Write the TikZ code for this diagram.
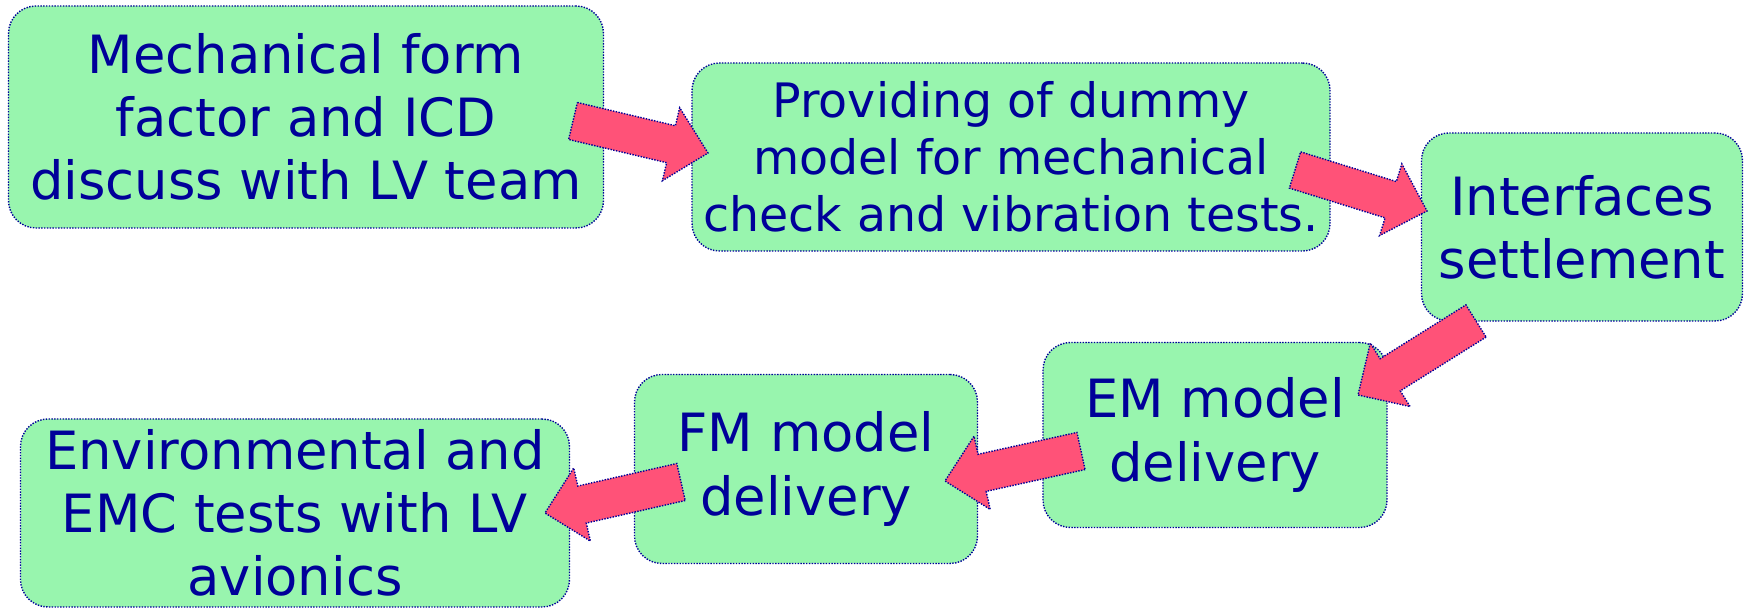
\documentclass[tikz,border=0pt]{standalone}
\usepackage{fontspec}
\setmainfont{DejaVu Sans}
\usepackage{tikz}
\usetikzlibrary{calc}
\usepackage{xcolor}
\definecolor{boxgreen}{RGB}{152,245,174}
\definecolor{inkblue}{RGB}{0,0,153}
\definecolor{arrowpink}{RGB}{255,82,120}
% block arrow from tail #1 to tip #2
\newcommand{\flowarrow}[2]{%
\draw[flow] ($(#1)!0.38cm!90:(#2)$) -- ($(#2)!0.76cm!(#1)!0.38cm!90:(#2)$)
  -- ($(#2)!0.76cm!(#1)!0.75cm!90:(#2)$) -- (#2)
  -- ($(#2)!0.76cm!(#1)!0.75cm!-90:(#2)$) -- ($(#2)!0.76cm!(#1)!0.38cm!-90:(#2)$)
  -- ($(#1)!0.38cm!-90:(#2)$) -- cycle;}

\begin{document}
\begin{tikzpicture}[
  task/.style={draw=inkblue,fill=boxgreen,line width=0.8pt,dash pattern=on 0.8pt off 0.8pt,
    rounded corners=0.55cm,text=inkblue,align=center,inner sep=0pt,
    font=\fontsize{30}{36}\selectfont},
  flow/.style={draw=inkblue,fill=arrowpink,line width=0.8pt,dash pattern=on 0.8pt off 0.8pt}]
\useasboundingbox (0,0) rectangle (34.88,12.16);
\node[task,minimum width=11.9cm,minimum height=4.44cm] (mech) at (6.12,9.82)
  {Mechanical form\\factor and ICD\\discuss with LV team};
\node[task,minimum width=12.76cm,minimum height=3.76cm,font=\fontsize{27}{32.5}\selectfont] (dummy) at (20.22,9.02)
  {Providing of dummy\\model for mechanical\\check and vibration tests.};
\node[task,minimum width=6.42cm,minimum height=3.76cm] (intf) at (31.64,7.62)
  {Interfaces\\settlement};
\node[task,minimum width=6.88cm,minimum height=3.7cm] (em) at (24.3,3.46)
  {EM model\\delivery};
\node[task,minimum width=6.86cm,minimum height=3.78cm] (fm) at (16.12,2.78)
  {FM model\\delivery};
\node[task,minimum width=10.98cm,minimum height=3.76cm] (env) at (5.9,1.9)
  {Environmental and\\EMC tests with LV\\avionics};
% arrow ends
\coordinate (t1) at (11.46,9.74);  \coordinate (h1) at (14.16,9.10);
\coordinate (t2) at (25.90,8.76);  \coordinate (h2) at (28.54,7.94);
\coordinate (t3) at (29.52,5.74);  \coordinate (h3) at (27.16,4.26);
\coordinate (t4) at (21.62,3.14);  \coordinate (h4) at (18.90,2.54);
\coordinate (t5) at (13.62,2.52);  \coordinate (h5) at (10.90,1.90);
\flowarrow{t1}{h1}
\flowarrow{t2}{h2}
\flowarrow{t3}{h3}
\flowarrow{t4}{h4}
\flowarrow{t5}{h5}
\end{tikzpicture}
\end{document}
